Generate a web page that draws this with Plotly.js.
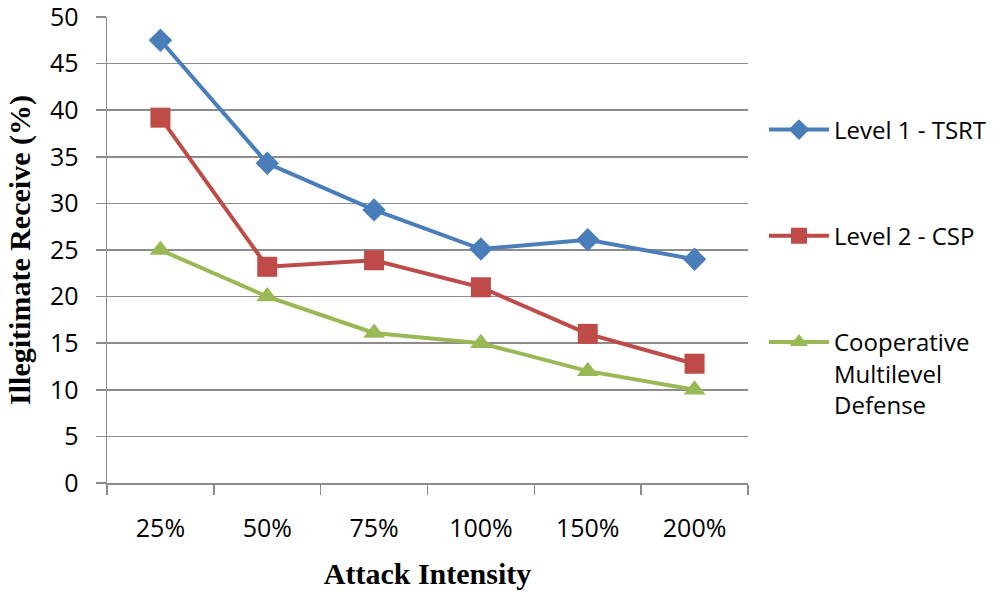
<!DOCTYPE html>
<html>
<head>
<meta charset="utf-8">
<script src="https://cdn.plot.ly/plotly-3.0.1.min.js"></script>
<style>html,body{margin:0;padding:0;background:#fff;}#chart{width:1000px;height:597px;}</style>
</head>
<body>
<div id="chart"></div>
<script>
const categories = ["25%", "50%", "75%", "100%", "150%", "200%"];
const level1TSRT = [47.5, 34.3, 29.3, 25.1, 26.1, 24.0];
const level2CSP = [39.2, 23.2, 23.9, 21.0, 16.0, 12.8];
const cooperative = [25.0, 20.0, 16.1, 15.0, 12.0, 10.0];
const seriesNames = ["Level 1 - TSRT", "Level 2 - CSP", "Cooperative<br>Multilevel<br>Defense"];
const yTicks = [0, 5, 10, 15, 20, 25, 30, 35, 40, 45, 50];

const colors = ["#4a7ebb", "#be4b48", "#98b954"];
const symbols = ["diamond", "square", "triangle-up"];
const sizes = [18, 20, 19];
const data = [level1TSRT, level2CSP, cooperative].map((vals, i) => ({
  type: "scatter",
  mode: "lines+markers",
  x: categories,
  y: vals,
  name: seriesNames[i],
  legendgroup: "g" + i,
  line: {color: colors[i], width: 4},
  marker: {color: colors[i], symbol: symbols[i], size: sizes[i]}
}));

const layout = {
  width: 1000,
  height: 597,
  margin: {l: 107, r: 252, t: 17, b: 114},
  paper_bgcolor: "#ffffff",
  plot_bgcolor: "#ffffff",
  showlegend: true,
  legend: {
    xref: "container", yref: "container",
    x: 0.764, xanchor: "left",
    y: 0.82, yanchor: "top",
    maxheight: 560,
    font: {family: "Open Sans, sans-serif", size: 24, color: "#000"},
    tracegroupgap: 72,
    valign: "top",
    itemwidth: 60
  },
  xaxis: {
    type: "category",
    range: [-0.5, 5.5],
    tickson: "boundaries",
    ticks: "outside",
    ticklen: 10,
    tickcolor: "#8c8c8c",
    tickwidth: 1.5,
    showgrid: false,
    showline: true,
    linecolor: "#8c8c8c",
    linewidth: 1.5,
    ticklabelstandoff: 22,
    tickfont: {family: "Open Sans, sans-serif", size: 25, color: "#000"},
    title: {text: "<b>Attack Intensity</b>", standoff: 20, font: {family: "Liberation Serif, serif", size: 30, color: "#000"}},
    automargin: false,
    fixedrange: true
  },
  yaxis: {
    range: [0, 50],
    tickvals: yTicks,
    ticktext: yTicks.map(String),
    ticks: "outside",
    ticklen: 10,
    tickcolor: "#8c8c8c",
    tickwidth: 1.5,
    showgrid: true,
    gridcolor: "#8c8c8c",
    gridwidth: 1.5,
    zeroline: false,
    showline: true,
    linecolor: "#8c8c8c",
    linewidth: 1.5,
    ticklabelstandoff: 12,
    ticklabeloverflow: "allow",
    tickfont: {family: "Open Sans, sans-serif", size: 25, color: "#000"},
    title: {text: "<b>Illegitimate Receive (%)</b>", standoff: 10, font: {family: "Liberation Serif, serif", size: 30, color: "#000"}},
    automargin: false,
    fixedrange: true
  }
};

Plotly.newPlot("chart", data, layout, {displayModeBar: false, staticPlot: true});
</script>
</body>
</html>
